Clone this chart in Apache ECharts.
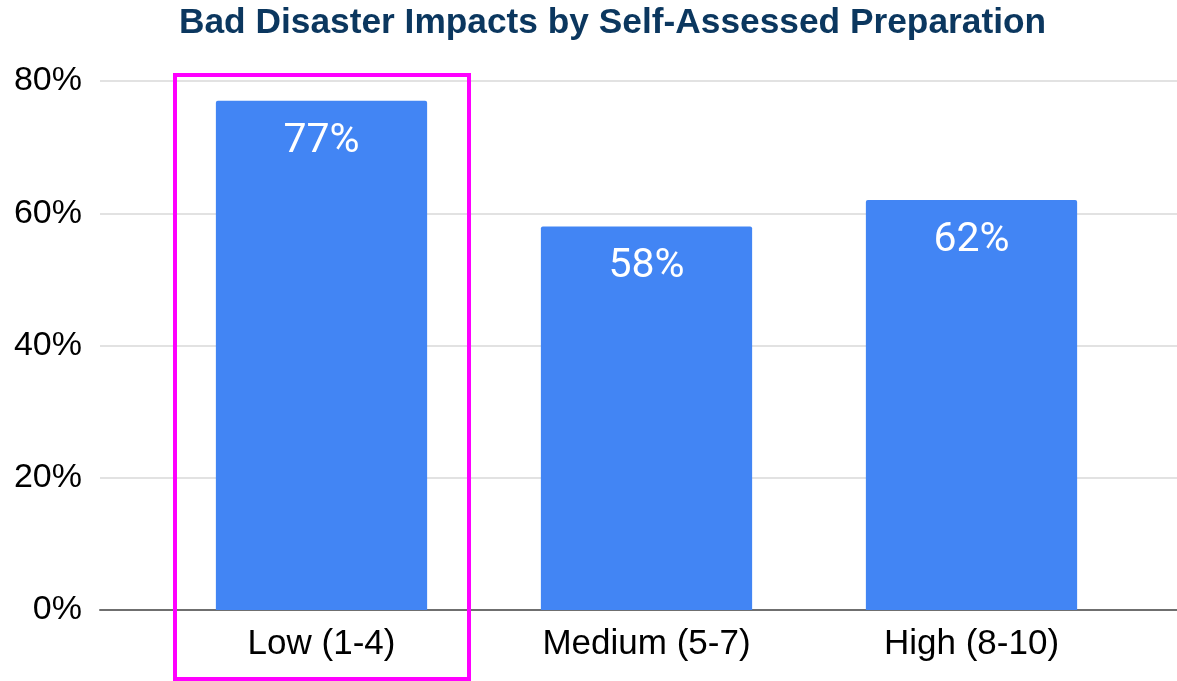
<!DOCTYPE html>
<html>
<head>
<meta charset="utf-8">
<script src="https://cdn.jsdelivr.net/npm/echarts@6/dist/echarts.min.js"></script>
<style>
  html, body { margin: 0; padding: 0; background: #ffffff; }
  #chart { width: 1177px; height: 681px; }
</style>
</head>
<body>
<div id="chart"></div>
<script>
// Share of respondents reporting bad disaster impacts, by self-rated preparation
const categories = ['Low (1-4)', 'Medium (5-7)', 'High (8-10)'];
const impactShare = [77, 58, 62];
const yTicks = [0, 20, 40, 60, 80];

const chart = echarts.init(document.getElementById('chart'), null, { renderer: 'canvas' });

const axisFont = 'Liberation Sans, Arial, Helvetica, sans-serif';

chart.setOption({
  animation: false,
  backgroundColor: '#ffffff',
  title: {
    text: 'Bad Disaster Impacts by Self-Assessed Preparation',
    left: 174,
    top: 1,
    textStyle: {
      fontFamily: axisFont,
      fontWeight: 'bold',
      fontSize: 35.3,
      color: '#0b375f'
    }
  },
  grid: [
    // full-width grid carrying the value axis and gridlines
    { left: 100, right: 0, top: 81, bottom: 71, containLabel: false },
    // inner grid holding the bars
    { left: 159, right: 43, top: 81, bottom: 71, containLabel: false }
  ],
  xAxis: [
    {
      gridIndex: 0,
      type: 'category',
      data: [''],
      axisLine: { show: true, lineStyle: { color: '#6f6f6f', width: 2 } },
      axisTick: { show: false },
      axisLabel: { show: false },
      splitLine: { show: false }
    },
    {
      gridIndex: 1,
      type: 'category',
      data: categories,
      axisLine: { show: false },
      axisTick: { show: false },
      axisLabel: {
        margin: 17,
        fontFamily: axisFont,
        fontSize: 35,
        color: '#000000'
      }
    }
  ],
  yAxis: [
    {
      gridIndex: 0,
      type: 'value',
      min: yTicks[0],
      max: yTicks[yTicks.length - 1],
      interval: yTicks[1] - yTicks[0],
      axisLine: { show: false },
      axisTick: { show: false },
      axisLabel: {
        formatter: '{value}%',
        margin: 18,
        fontFamily: axisFont,
        fontSize: 34,
        color: '#000000'
      },
      splitLine: { show: true, lineStyle: { color: '#d9d9d9', width: 1.5 } }
    },
    {
      gridIndex: 1,
      type: 'value',
      min: yTicks[0],
      max: yTicks[yTicks.length - 1],
      interval: yTicks[1] - yTicks[0],
      show: false,
      splitLine: { show: false }
    }
  ],
  series: [
    {
      type: 'bar',
      xAxisIndex: 1,
      yAxisIndex: 1,
      data: impactShare,
      barCategoryGap: '35%',
      itemStyle: { color: '#4285f4', borderRadius: [2, 2, 0, 0] },
      label: {
        show: true,
        position: 'insideTop',
        distance: 20,
        formatter: '{c}%',
        fontFamily: 'Roboto, sans-serif',
        fontSize: 41,
        color: '#ffffff'
      },
      z: 3
    }
  ],
  graphic: [
    {
      type: 'rect',
      shape: { x: 175, y: 75, width: 294, height: 604 },
      style: { fill: 'none', stroke: '#ff00ff', lineWidth: 4 },
      z: 10
    }
  ]
});
</script>
</body>
</html>
